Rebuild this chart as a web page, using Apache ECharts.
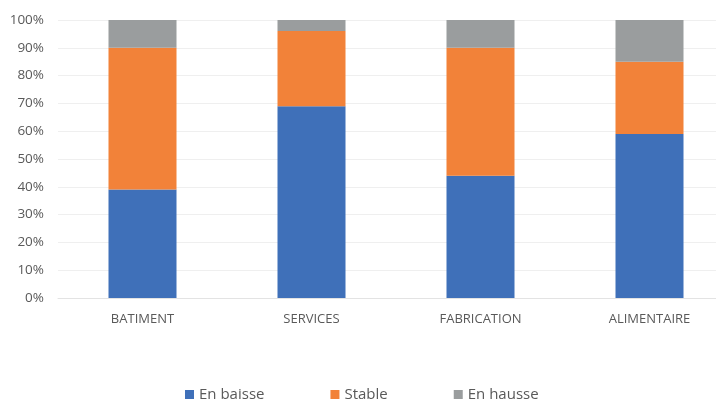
<!DOCTYPE html>
<html>
<head>
<meta charset="utf-8">
<script src="https://cdn.jsdelivr.net/npm/echarts@6/dist/echarts.min.js"></script>
<style>html,body{margin:0;padding:0;background:#fff;overflow:hidden}#c{width:734px;height:401px}</style>
</head>
<body>
<div id="c"></div>
<script>
const categories = ['BATIMENT', 'SERVICES', 'FABRICATION', 'ALIMENTAIRE'];
const enBaisse = [39, 69, 44, 59];
const stable = [51, 27, 46, 26];
const enHausse = [10, 4, 10, 15];
const seriesNames = ['En baisse', 'Stable', 'En hausse'];
const colors = ['#3f70b9', '#f28239', '#9a9d9e'];

const chart = echarts.init(document.getElementById('c'));
const font = '"Open Sans", "Noto Sans", sans-serif';
const mk = (name, data, color) => ({
  name, type: 'bar', stack: 'total', data, barWidth: 68,
  itemStyle: { color }
});
chart.setOption({
  animation: false,
  textStyle: { fontFamily: font },
  grid: { left: 58, top: 20, right: 0, height: 278 },
  legend: {
    bottom: -6, left: 180, itemWidth: 9, itemHeight: 9, itemGap: 66,
    icon: 'rect',
    textStyle: { fontSize: 15, color: '#595959', fontFamily: font },
    data: seriesNames
  },
  xAxis: {
    type: 'category', data: categories,
    axisLine: { lineStyle: { color: '#e3e3e3' } },
    axisTick: { show: false },
    axisLabel: { color: '#595959', fontSize: 13, margin: 15, fontFamily: font }
  },
  yAxis: {
    type: 'value', min: 0, max: 100, interval: 10,
    axisLabel: { formatter: '{value}%', color: '#595959', fontSize: 13.5, margin: 14, fontFamily: font },
    splitLine: { lineStyle: { color: '#efefef' } },
    axisLine: { show: false }, axisTick: { show: false }
  },
  series: [
    mk(seriesNames[0], enBaisse, colors[0]),
    mk(seriesNames[1], stable, colors[1]),
    mk(seriesNames[2], enHausse, colors[2])
  ]
});
</script>
</body>
</html>
